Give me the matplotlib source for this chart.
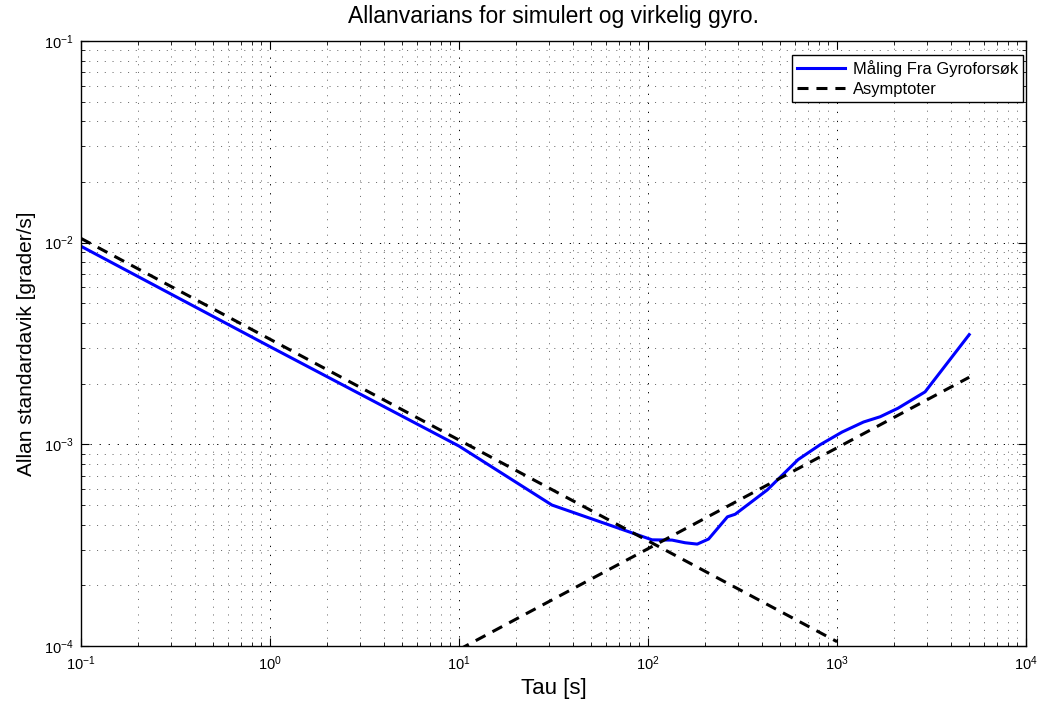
import matplotlib
matplotlib.use('Agg')
import matplotlib.pyplot as plt
from matplotlib.ticker import LogLocator, NullFormatter

plt.rcParams['font.family'] = ['Liberation Sans', 'DejaVu Sans']
plt.rcParams['mathtext.fontset'] = 'custom'
plt.rcParams['mathtext.rm'] = 'Liberation Sans'

tau_meas = [0.1, 1, 10, 31, 105, 134, 157, 182, 209, 263, 289, 427, 622, 813,
            1062, 1380, 1690, 2100, 2920, 5000]
adev_meas = [9.6e-3, 3.05e-3, 9.8e-4, 5.0e-4, 3.36e-4, 3.35e-4, 3.25e-4, 3.2e-4,
             3.39e-4, 4.37e-4, 4.5e-4, 5.94e-4, 8.4e-4, 9.95e-4, 1.15e-3,
             1.29e-3, 1.37e-3, 1.51e-3, 1.82e-3, 3.5e-3]

# asymptotes (end points)
tau_arw = [0.1, 1000]
adev_arw = [1.05e-2, 1.05e-4]
tau_rrw = [10, 5000]
adev_rrw = [9.6e-5, 2.15e-3]

fig = plt.figure(figsize=(10.46, 7.01), dpi=100)
ax = fig.add_axes([0.0774, 0.0785, 0.9036, 0.863])

ax.loglog(tau_meas, adev_meas, color='#0000ff', lw=2.2, label='Måling Fra Gyroforsøk')
ax.loglog(tau_arw, adev_arw, 'k--', lw=2.2, dashes=(3.6, 2.6), label='Asymptoter')
ax.loglog(tau_rrw, adev_rrw, 'k--', lw=2.2, dashes=(3.6, 2.6))

ax.set_xlim(0.1, 1e4)
ax.set_ylim(1e-4, 1e-1)

ax.xaxis.set_major_locator(LogLocator(base=10, numticks=10))
ax.yaxis.set_major_locator(LogLocator(base=10, numticks=10))
ax.xaxis.set_minor_locator(LogLocator(base=10, subs=range(2, 10), numticks=20))
ax.yaxis.set_minor_locator(LogLocator(base=10, subs=range(2, 10), numticks=20))
ax.xaxis.set_minor_formatter(NullFormatter())
ax.yaxis.set_minor_formatter(NullFormatter())

# sparse matlab-like dotted grid
ax.grid(True, which='major', ls=(0, (1.3, 8)), color='k', lw=0.7)
ax.grid(True, which='minor', ls=(0, (1.3, 8)), color='0.35', lw=0.6)
ax.tick_params(which='both', direction='in', top=True, right=True, labelsize=10.5)
ax.tick_params(which='major', length=6)
ax.tick_params(which='minor', length=3)
ax.tick_params(axis='x', pad=6)
ax.tick_params(axis='y', pad=5)
for s in ax.spines.values():
    s.set_linewidth(1.0)

ax.set_title('Allanvarians for simulert og virkelig gyro.', fontsize=16.5, pad=13)
ax.set_xlabel('Tau [s]', fontsize=16, labelpad=4)
ax.set_ylabel('Allan standardavik [grader/s]', fontsize=15, labelpad=6)

leg = ax.legend(loc='upper right', bbox_to_anchor=(0.9968, 0.977), borderaxespad=0,
                fontsize=11.9, fancybox=False, framealpha=1, edgecolor='k',
                handlelength=2.9, labelspacing=0.3, borderpad=0.3, handletextpad=0.5)
leg.get_frame().set_linewidth(1.0)

fig.savefig('out.png', dpi=100)
